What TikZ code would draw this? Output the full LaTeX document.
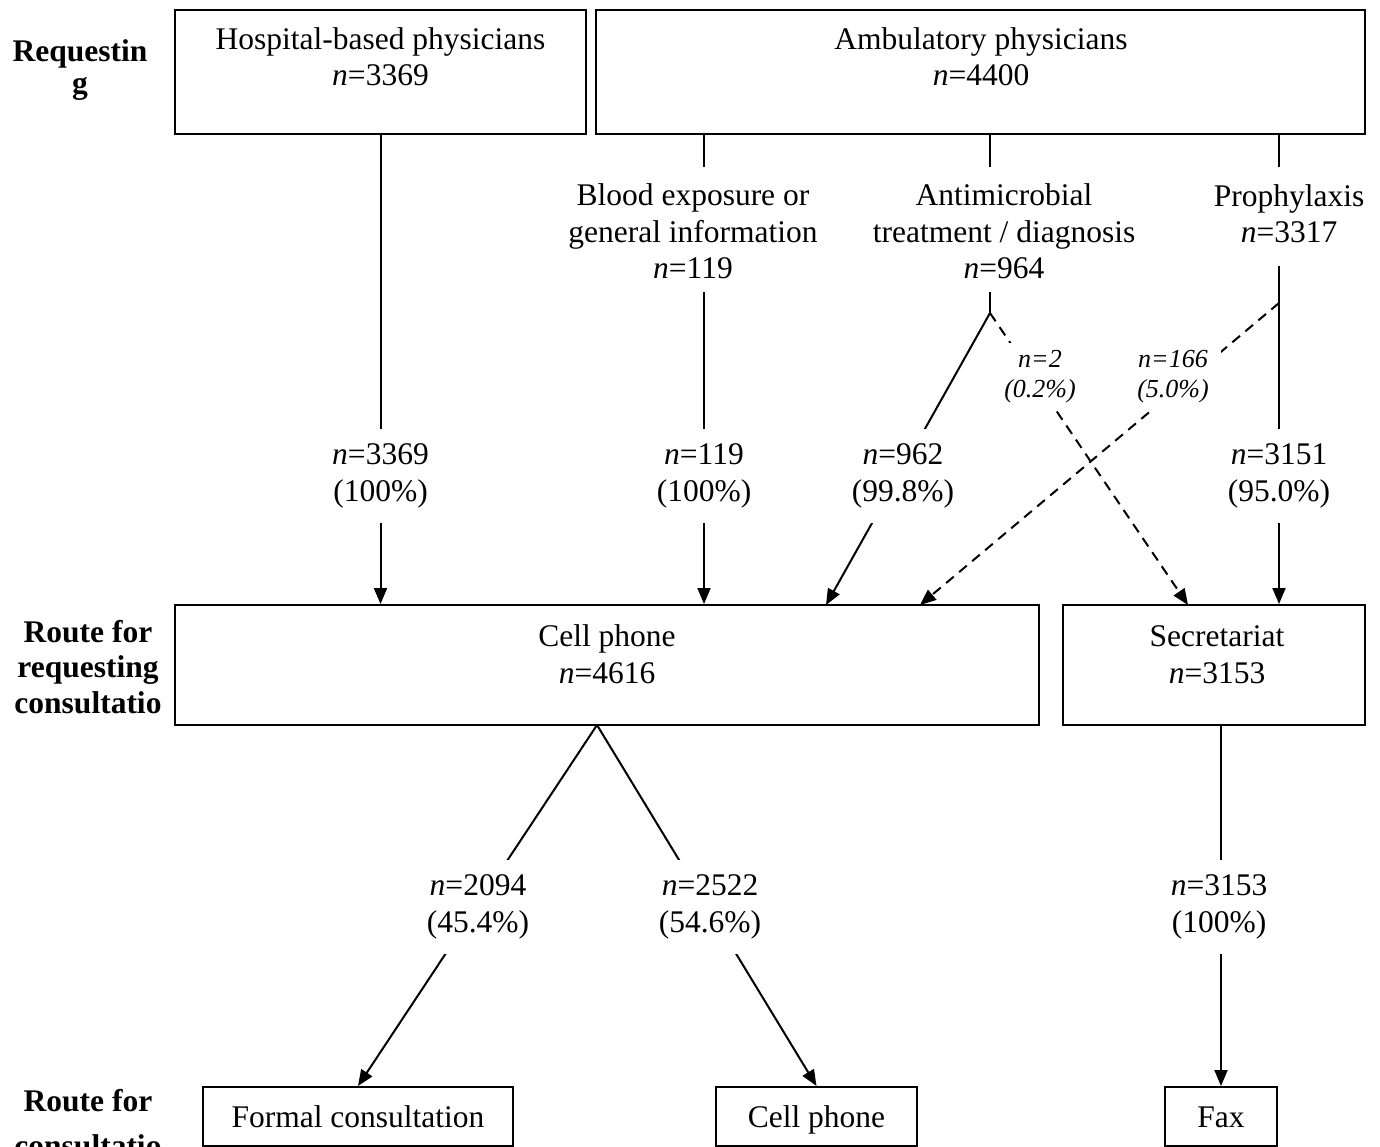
\documentclass[tikz,border=0pt]{standalone}
\usepackage{fontspec}
\setmainfont{Liberation Serif}
\usetikzlibrary{arrows.meta}

\begin{document}
\begin{tikzpicture}[x=1pt, y=-1pt,
FlowBox/.style={draw, line width=2pt, inner sep=0pt, text height=22pt, text depth=0pt, font=\fontsize{31.5}{36.5}\selectfont},
FlowText/.style={align=center, anchor=base, inner sep=12pt, font=\fontsize{31.5}{36.5}\selectfont},
RowHead/.style={align=center, anchor=base, font=\fontsize{31.5}{35.5}\selectfont\bfseries},
CountLabel/.style={align=center, anchor=base, fill=white, inner xsep=4pt, inner ysep=15pt, font=\fontsize{31.5}{36.5}\selectfont},
SmallLabel/.style={align=center, anchor=base, fill=white, inner sep=7pt, font=\fontsize{26}{30}\selectfont\itshape},
Link/.style={line width=2pt},
Flow/.style={line width=2pt, -{Triangle[length=16pt, width=13pt]}},
DashFlow/.style={Flow, dash pattern=on 10pt off 7pt}]

\useasboundingbox (0,0) rectangle (1380,1147);

% row headings (base = last line)
\node[RowHead] (req) at (80,94) {Requestin\\[-3pt]g};
\node[RowHead] (routereq) at (88,713) {Route for\\requesting\\consultatio};
\node[RowHead] (routecons) at (88,1156) {Route for\\[9pt]consultatio};

% requesting physicians
\node[FlowBox, minimum width=411pt, minimum height=124pt] (hosp) at (380.5,72) {};
\node[FlowText] (hospt) at (380.5,86) {Hospital-based physicians\\\textit{n}=3369};
\node[FlowBox, minimum width=769pt, minimum height=124pt] (amb) at (980.5,72) {};
\node[FlowText] (ambt) at (981,86) {Ambulatory physicians\\\textit{n}=4400};

% reasons
\node[FlowText] (bloodt) at (693,279) {Blood exposure or\\general information\\\textit{n}=119};
\node[FlowText] (antit) at (1004,279) {Antimicrobial\\treatment / diagnosis\\\textit{n}=964};
\node[FlowText] (propht) at (1289,243) {Prophylaxis\\\textit{n}=3317};

% routes for requesting
\node[FlowBox, minimum width=864pt, minimum height=120pt] (cell) at (607,665) {};
\node[FlowText] (cellt) at (607,683) {Cell phone\\\textit{n}=4616};
\node[FlowBox, minimum width=302pt, minimum height=120pt] (secr) at (1214,665) {};
\node[FlowText] (secrt) at (1217,683) {Secretariat\\\textit{n}=3153};

% routes for consultation
\node[FlowBox, minimum width=310pt, minimum height=59pt] (formal) at (358,1116.5) {Formal consultation};
\node[FlowBox, minimum width=201pt, minimum height=59pt] (cellb) at (816.5,1116.5) {Cell phone};
\node[FlowBox, minimum width=112pt, minimum height=59pt] (fax) at (1221,1116.5) {Fax};

% branch points
\coordinate (bs) at (704,167);
\coordinate (as) at (990,167);
\coordinate (ps) at (1279,167);
\coordinate (ab) at (990,313);
\coordinate (pb) at (1279,303);
\coordinate (c962) at (826,605);
\coordinate (c166) at (920,605);
\coordinate (s2) at (1188,605);
\coordinate (cb) at (597,725);

\draw[Flow] (hosp.south) -- (hosp.south |- cell.north);
\draw[Link] (amb.south -| bs) -- (bs);
\draw[Link] (amb.south -| as) -- (as);
\draw[Link] (amb.south -| ps) -- (ps);
\draw[Flow] (bloodt.south -| bs) -- (bs |- cell.north);
\draw[Link] (antit.south -| ab) -- (ab);
\draw[Flow] (ab) -- (c962);
\draw[DashFlow] (ab) -- (s2);
\draw[Flow] ([yshift=-10pt]propht.south -| ps) -- (ps |- secr.north);
\draw[DashFlow] (pb) -- (c166);
\draw[Flow] (cb) -- (formal.north);
\draw[Flow] (cb) -- (cellb.north);
\draw[Flow] (secr.south -| fax.north) -- (fax.north);

% counts on the connectors
\node[CountLabel] (l3369) at (380.5,501) {\textit{n}=3369\\(100\%)};
\node[CountLabel] (l119) at (704,501) {\textit{n}=119\\(100\%)};
\node[CountLabel] (l962) at (903,501) {\textit{n}=962\\(99.8\%)};
\node[CountLabel] (l3151) at (1279,501) {\textit{n}=3151\\(95.0\%)};
\node[SmallLabel] (l2) at (1040,397) {n=2\\(0.2\%)};
\node[SmallLabel, inner xsep=12pt] (l166) at (1173,397) {n=166\\(5.0\%)};
\node[CountLabel] (l2094) at (478,932) {\textit{n}=2094\\(45.4\%)};
\node[CountLabel] (l2522) at (710,932) {\textit{n}=2522\\(54.6\%)};
\node[CountLabel] (l3153) at (1219,932) {\textit{n}=3153\\(100\%)};

\end{tikzpicture}
\end{document}
